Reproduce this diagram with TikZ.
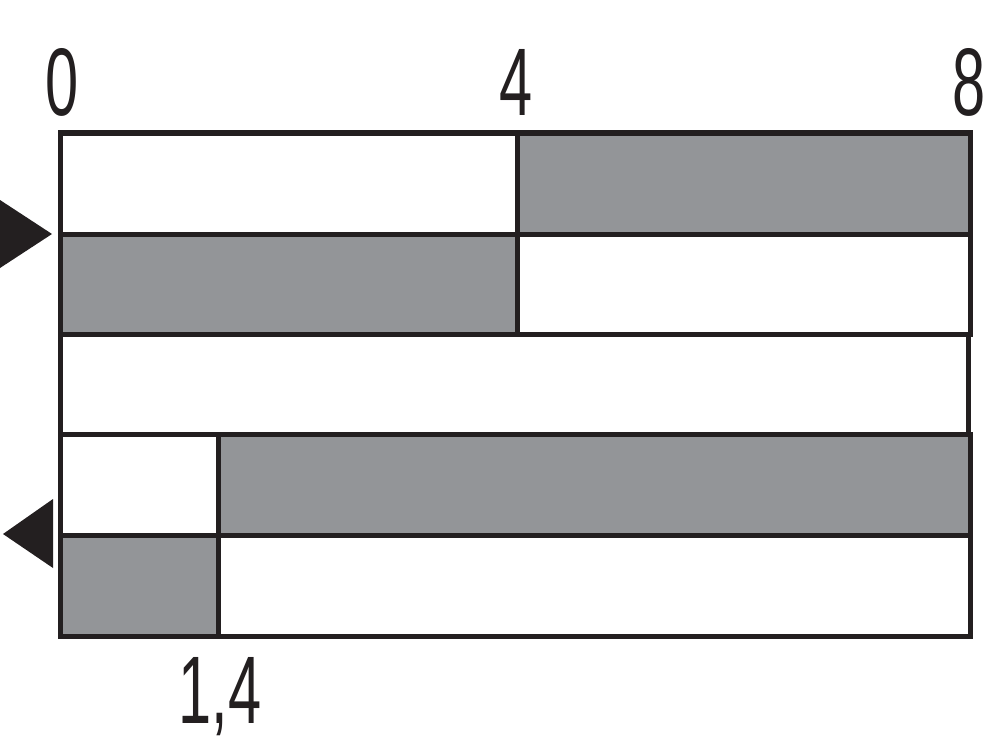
\documentclass[tikz,border=0pt]{standalone}
\usepackage{fontspec}
\setmainfont{Liberation Sans}
\definecolor{barline}{RGB}{35,31,32}
\definecolor{bargray}{RGB}{147,149,152}
\tikzset{every picture/.style={line width=0.75pt}}
\tikzset{
	bar/.style={draw=barline, line width=3.75pt},
	barfill/.style={bar, fill=bargray},
	tick/.style={font=\fontsize{72}{72}\selectfont, text=barline, xscale=0.62, inner sep=0pt},
	marker/.style={fill=barline, draw=none}
}
\begin{document}
\begin{tikzpicture}[x=0.75pt,y=0.75pt,yscale=-1,xscale=1]
	\useasboundingbox (0,0) rectangle (1000,749);
	
	%Shape: Rectangle [row 1]
	\draw [bar] (60,133) rectangle (517,234);
	\draw [barfill] (517,133) rectangle (970,234);
	%Shape: Rectangle [row 2]
	\draw [barfill] (60,234) rectangle (517,334);
	\draw [bar] (517,234) rectangle (970,334);
	%Shape: Rectangle [row 3]
	\draw [bar] (60,334) rectangle (968,434);
	%Shape: Rectangle [row 4]
	\draw [bar] (60,434) rectangle (218,535);
	\draw [barfill] (218,434) rectangle (970,535);
	%Shape: Rectangle [row 5]
	\draw [barfill] (60,535) rectangle (218,636);
	\draw [bar] (218,535) rectangle (970,636);
	
	%Shape: Triangle [in]
	\draw [marker] (0,200) -- (52,234) -- (0,268) -- cycle;
	%Shape: Triangle [out]
	\draw [marker] (53,499) -- (3,534) -- (53,568) -- cycle;
	
	% Text Node
	\node [tick] (zero) at (62,82) {0};
	% Text Node
	\node [tick] (four) at (516,82) {4};
	% Text Node
	\node [tick] (eight) at (969,82) {8};
	% Text Node
	\node [tick] (onefour) at (220,697) {1,4};
\end{tikzpicture}
\end{document}
